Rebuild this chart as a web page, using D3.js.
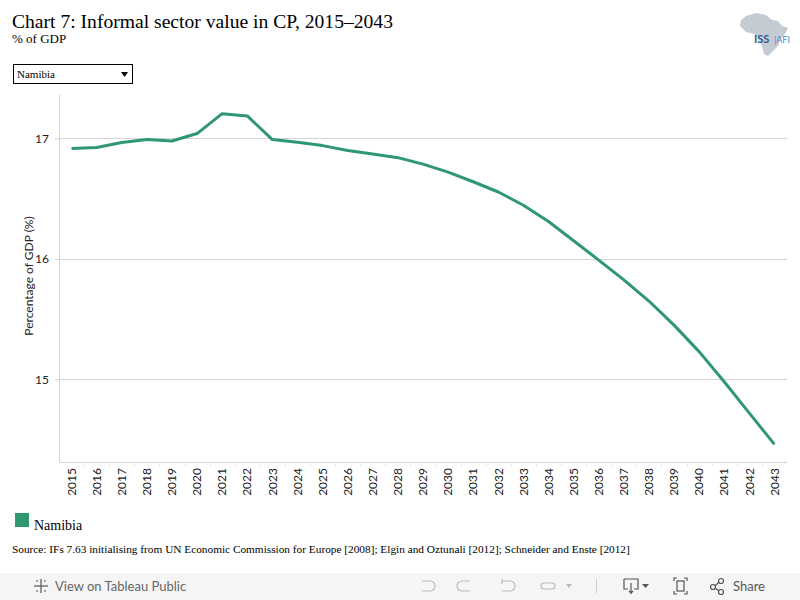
<!DOCTYPE html>
<html>
<head>
<meta charset="utf-8">
<script src="https://cdn.jsdelivr.net/npm/d3@7"></script>
<style>
  body { margin: 0; background: #fff; }
  svg { display: block; }
</style>
</head>
<body>
<svg id="chart" width="800" height="600"></svg>
<script>
// data
var years = [2015, 2016, 2017, 2018, 2019, 2020, 2021, 2022, 2023, 2024, 2025, 2026, 2027, 2028, 2029,
    2030, 2031, 2032, 2033, 2034, 2035, 2036, 2037, 2038, 2039, 2040, 2041, 2042, 2043];
var namibia = [16.915, 16.925, 16.965, 16.99, 16.978, 17.04, 17.205, 17.186, 16.99, 16.967, 16.94, 16.90,
    16.87, 16.84, 16.786, 16.72, 16.64, 16.555, 16.445, 16.31, 16.15, 15.99, 15.826, 15.65, 15.45,
    15.23, 14.98, 14.72, 14.46];
var yTicks = [15, 16, 17];
var seriesName = "Namibia";

var green = "#2f9870";
var serif = "'Liberation Serif', 'Times New Roman', serif";
var sans = "Lato, 'Open Sans', sans-serif";

var drawChart = function () {
    var svg = d3.select("#chart");

    // plot area
    var pLeft = 59, pRight = 787, pTop = 95, pBottom = 462;

    var x = d3.scaleBand()
        .domain(years)
        .range([pLeft, pRight]);

    var y = d3.scaleLinear()
        .domain([14.314, 17.36])
        .range([pBottom, pTop]);

    // title block
    svg.append("text")
        .attr("x", 12).attr("y", 28)
        .style("font", "19.6px " + serif)
        .attr("fill", "#000")
        .text("Chart 7: Informal sector value in CP, 2015\u20132043");

    svg.append("text")
        .attr("x", 12).attr("y", 43)
        .style("font", "13px " + serif)
        .attr("fill", "#000")
        .text("% of GDP");

    // dropdown
    svg.append("rect")
        .attr("x", 13.5).attr("y", 64.5)
        .attr("width", 119).attr("height", 19)
        .attr("fill", "#fff").attr("stroke", "#000");
    svg.append("text")
        .attr("x", 17).attr("y", 78)
        .style("font", "11px " + serif)
        .text(seriesName);
    svg.append("path")
        .attr("d", "M121,72 L128,72 L124.5,77 Z")
        .attr("fill", "#000");

    // logo (rough Africa outline + text)
    var logo = svg.append("g").attr("transform", "translate(738,12)");
    logo.append("path")
        .attr("d", "M8,4 L18,1 L28,3 L34,8 L40,9 L44,14 L50,16 L47,22 L42,28 L40,34 L34,40 L30,44 L26,42 L24,34 L20,26 L16,22 L8,20 L2,14 L3,8 Z")
        .attr("fill", "#c5cbd3");
    logo.append("text")
        .attr("x", 16).attr("y", 31)
        .style("font", "bold 11px " + sans)
        .attr("fill", "#2d5c8a")
        .text("ISS");
    logo.append("text")
        .attr("x", 36).attr("y", 31)
        .style("font", "9px " + sans)
        .attr("fill", "#3a8fc8")
        .text("|AFI");

    // gridlines
    svg.append("g")
        .selectAll("line")
        .data(yTicks)
        .join("line")
        .attr("x1", pLeft).attr("x2", pRight)
        .attr("y1", function (d) { return Math.round(y(d)) + 0.5; })
        .attr("y2", function (d) { return Math.round(y(d)) + 0.5; })
        .attr("stroke", "#d4d4d4");

    // y axis
    var yAxis = svg.append("g")
        .attr("transform", "translate(" + pLeft + ",0)")
        .call(d3.axisLeft(y).tickValues(yTicks).tickSize(4).tickPadding(6).tickFormat(d3.format("d")));
    yAxis.select(".domain").attr("stroke", "#d4d4d4").attr("d", "M0.5," + pTop + "V" + pBottom);
    yAxis.selectAll(".tick line").attr("stroke", "#d4d4d4");
    yAxis.selectAll(".tick text").style("font", "12px " + sans).attr("fill", "#222");

    svg.append("text")
        .attr("transform", "translate(33,276) rotate(-90)")
        .attr("text-anchor", "middle")
        .style("font", "12px " + sans)
        .attr("fill", "#222")
        .text("Percentage of GDP (%)");

    // x axis
    var xAxis = svg.append("g")
        .attr("transform", "translate(0," + pBottom + ")")
        .call(d3.axisBottom(x).tickSize(0).tickPadding(0));
    xAxis.select(".domain").attr("stroke", "#d4d4d4").attr("d", "M" + pLeft + ",0.5H" + pRight);
    xAxis.selectAll(".tick text")
        .attr("transform", "rotate(-90)")
        .attr("x", -6).attr("y", 0).attr("dy", "0.35em")
        .attr("text-anchor", "end")
        .style("font", "12px " + sans)
        .attr("fill", "#222");

    // band separators under the axis
    svg.append("g")
        .selectAll("line")
        .data(years.slice(1))
        .join("line")
        .attr("x1", function (d) { return Math.round(x(d)) + 0.5; })
        .attr("x2", function (d) { return Math.round(x(d)) + 0.5; })
        .attr("y1", pBottom).attr("y2", pBottom + 4)
        .attr("stroke", "#e6e6e6");

    // the line
    var line = d3.line()
        .x(function (d, i) { return x(years[i]) + x.bandwidth() / 2; })
        .y(function (d) { return y(d); });

    svg.append("path")
        .datum(namibia)
        .attr("fill", "none")
        .attr("stroke", green)
        .attr("stroke-width", 3)
        .attr("stroke-linejoin", "round")
        .attr("d", line);

    // legend
    svg.append("rect")
        .attr("x", 15).attr("y", 513)
        .attr("width", 14).attr("height", 14)
        .attr("fill", green);
    svg.append("text")
        .attr("x", 34).attr("y", 530)
        .style("font", "14px " + serif)
        .text(seriesName);

    // source
    svg.append("text")
        .attr("x", 12).attr("y", 553)
        .style("font", "11.3px " + serif)
        .text("Source: IFs 7.63 initialising from UN Economic Commission for Europe [2008]; Elgin and Oztunali [2012]; Schneider and Enste [2012]");

    // tableau toolbar
    var bar = svg.append("g").attr("transform", "translate(0,573)");
    bar.append("rect").attr("width", 800).attr("height", 27).attr("fill", "#f5f5f5");
    var star = bar.append("g").attr("transform", "translate(41,13)").attr("stroke", "#555").attr("stroke-width", 1.2);
    [[-7, 0, 7, 0], [0, -7, 0, 7], [-5, -5, -3, -5], [3, 5, 5, 5], [-5, 5, -3, 5], [3, -5, 5, -5]].forEach(function (s) {
        star.append("line").attr("x1", s[0]).attr("y1", s[1]).attr("x2", s[2]).attr("y2", s[3]);
    });
    bar.append("text")
        .attr("x", 55).attr("y", 18)
        .style("font", "13px " + sans)
        .attr("fill", "#666")
        .text("View on Tableau Public");

    var icons = bar.append("g").attr("fill", "none").attr("stroke", "#bbb").attr("stroke-width", 1.2);
    icons.append("path").attr("d", "M422,8 h8 a5,5 0 0 1 0,10 h-8");
    icons.append("path").attr("d", "M470,8 h-8 a5,5 0 0 0 0,10 h8");
    icons.append("path").attr("d", "M502,6 v5 M502,8 h8 a5,5 0 0 1 0,10 h-8");
    icons.append("path").attr("d", "M552,10 h-8 a3,3 0 0 0 0,6 h8 a3,3 0 0 0 0,-6");
    bar.append("path").attr("d", "M566,11 h6 l-3,4 Z").attr("fill", "#bbb");
    bar.append("line").attr("x1", 596.5).attr("x2", 596.5).attr("y1", 6).attr("y2", 20).attr("stroke", "#ccc");
    var dl = bar.append("g").attr("fill", "none").attr("stroke", "#555").attr("stroke-width", 1.2);
    dl.append("path").attr("d", "M624,6 h14 v10 h-4 M628,16 h-4 v-10 M631,10 v10 l-2,-2 M631,20 l2,-2");
    bar.append("path").attr("d", "M642,11 h7 l-3.5,4 Z").attr("fill", "#555");
    dl.append("path").attr("d", "M674,8 v-3 h3 M684,5 h3 v3 M687,18 v3 h-3 M677,21 h-3 v-3");
    dl.append("rect").attr("x", 677).attr("y", 8).attr("width", 7).attr("height", 10);
    dl.append("circle").attr("cx", 713).attr("cy", 14).attr("r", 2.5);
    dl.append("circle").attr("cx", 721).attr("cy", 8).attr("r", 2.5);
    dl.append("circle").attr("cx", 721).attr("cy", 19).attr("r", 2.5);
    dl.append("path").attr("d", "M715,13 L719,9 M715,15 L719,18");
    bar.append("text")
        .attr("x", 733).attr("y", 18)
        .style("font", "13px " + sans)
        .attr("fill", "#555")
        .text("Share");
};

drawChart();
</script>
</body>
</html>
